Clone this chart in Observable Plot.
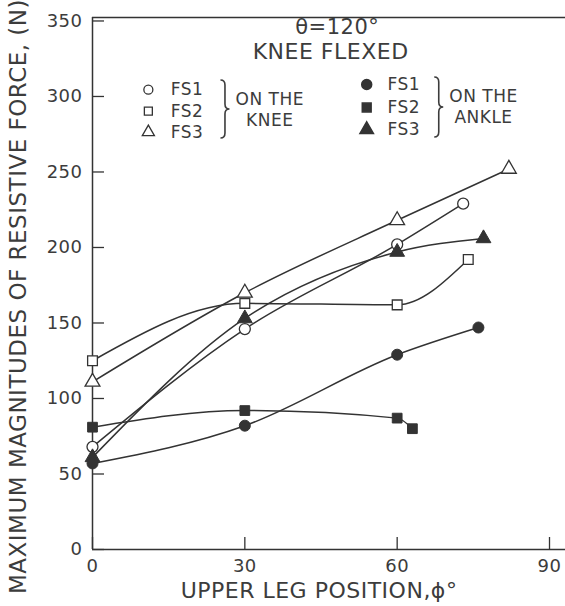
<!DOCTYPE html>
<html>
<head>
<meta charset="utf-8">
<script src="https://cdn.jsdelivr.net/npm/d3@7"></script>
<script src="https://cdn.jsdelivr.net/npm/@observablehq/plot@0.6"></script>
<style>
  html, body { margin: 0; padding: 0; background: #fff; }
  #chart svg text { letter-spacing: 0.5px; }
</style>
</head>
<body>
<div id="chart"></div>
<script>
// Upper leg position φ (degrees) and maximum resistive force (N) for each force sensor
const kneeFS1Phi = [0, 30, 60, 73];
const kneeFS1Force = [68, 146, 202, 229];
const kneeFS2Phi = [0, 30, 60, 74];
const kneeFS2Force = [125, 163, 162, 192];
const kneeFS3Phi = [0, 30, 60, 82];
const kneeFS3Force = [111, 170, 218, 252];
const ankleFS1Phi = [0, 30, 60, 76];
const ankleFS1Force = [57, 82, 129, 147];
const ankleFS2Phi = [0, 30, 60, 63];
const ankleFS2Force = [81, 92, 87, 80];
const ankleFS3Phi = [0, 30, 60, 77];
const ankleFS3Force = [61, 153, 197, 206];

const xTicks = [0, 30, 60, 90];
const yTicks = [0, 50, 100, 150, 200, 250, 300, 350];
const sensorNames = ["FS1", "FS2", "FS3"];
const symbols = ["circle", "square", "triangle"];

const ink = "#333";
const textInk = "#3c3c3c";
const font = "DejaVu Sans";

const series = [
  {place: "knee", sensor: 0, phi: kneeFS1Phi, force: kneeFS1Force},
  {place: "knee", sensor: 1, phi: kneeFS2Phi, force: kneeFS2Force},
  {place: "knee", sensor: 2, phi: kneeFS3Phi, force: kneeFS3Force},
  {place: "ankle", sensor: 0, phi: ankleFS1Phi, force: ankleFS1Force},
  {place: "ankle", sensor: 1, phi: ankleFS2Phi, force: ankleFS2Force},
  {place: "ankle", sensor: 2, phi: ankleFS3Phi, force: ankleFS3Force}
];

const rows = series.flatMap(s => s.phi.map((p, i) => ({
  key: `${s.place}-${sensorNames[s.sensor]}`,
  place: s.place,
  symbol: symbols[s.sensor],
  phi: p,
  force: s.force[i]
})));

// Legend layout (data units)
const legendRowsKnee = [304.5, 290.3, 276.4];
const legendRowsAnkle = [307.9, 292.7, 278.1];
const legendItems = [
  ...sensorNames.map((n, i) => ({place: "knee", name: n, symbol: symbols[i], sx: 11.0, tx: 15.4, y: legendRowsKnee[i]})),
  ...sensorNames.map((n, i) => ({place: "ankle", name: n, symbol: symbols[i], sx: 54.0, tx: 58.1, y: legendRowsAnkle[i]}))
];

// A right-facing curly brace drawn between two force levels at a given φ
function brace(xv, y0v, y1v, w) {
  return (index, {x, y}) => {
    const px = x(xv), top = y(y0v), bot = y(y1v), mid = (top + bot) / 2, r = 5, c = px + w / 2;
    const path = document.createElementNS("http://www.w3.org/2000/svg", "path");
    path.setAttribute("d",
      `M${px},${top} Q${c},${top} ${c},${top + r} L${c},${mid - r} Q${c},${mid} ${px + w},${mid}` +
      ` Q${c},${mid} ${c},${mid + r} L${c},${bot - r} Q${c},${bot} ${px},${bot}`);
    path.setAttribute("fill", "none");
    path.setAttribute("stroke", textInk);
    path.setAttribute("stroke-width", "1.6");
    return path;
  };
}

const xMax = 93.15, yMax = 352.3;

const chart = Plot.plot({
  width: 565,
  height: 606,
  marginLeft: 92,
  marginRight: 0,
  marginTop: 17,
  marginBottom: 57,
  style: {fontFamily: font, background: "#fff", color: textInk},
  x: {domain: [0, xMax]},
  y: {domain: [0, yMax]},
  marks: [
    // frame: left axis, bottom axis, top border
    Plot.ruleX([0], {stroke: ink, strokeWidth: 1.5}),
    Plot.ruleY([0], {stroke: ink, strokeWidth: 1.5}),
    Plot.ruleY([yMax], {stroke: ink, strokeWidth: 1.5}),
    Plot.axisY(yTicks, {anchor: "left", tickSize: -12, tickPadding: 22, fontSize: 18, stroke: ink, strokeWidth: 1.3, label: null}),
    Plot.axisX(xTicks, {anchor: "bottom", tickSize: -12, tickPadding: 22, fontSize: 18, stroke: ink, strokeWidth: 1.3, label: null}),
    Plot.text(["MAXIMUM MAGNITUDES OF RESISTIVE FORCE, (N)"], {frameAnchor: "left", textAnchor: "middle", lineAnchor: "middle", rotate: -90, dx: -74, dy: 13, fontSize: 23, fill: textInk}),
    Plot.text(["UPPER LEG POSITION,ϕ°"], {frameAnchor: "bottom", textAnchor: "middle", lineAnchor: "middle", dx: -10, dy: 41, fontSize: 22, fill: textInk}),
    // data curves
    Plot.line(rows, {x: "phi", y: "force", z: "key", curve: "monotone-x", stroke: ink, strokeWidth: 1.5}),
    Plot.dot(rows.filter(d => d.place === "knee"), {x: "phi", y: "force", symbol: "symbol", r: 5.5, fill: "#fff", stroke: ink, strokeWidth: 1.3}),
    Plot.dot(rows.filter(d => d.place === "ankle"), {x: "phi", y: "force", symbol: "symbol", r: 5.5, fill: ink, stroke: ink, strokeWidth: 1}),
    // title
    Plot.text(["θ=120°"], {x: 48.2, y: 346, fontSize: 21, fill: textInk}),
    Plot.text(["KNEE FLEXED"], {x: 46.9, y: 329.5, fontSize: 22, fill: textInk}),
    // legend
    Plot.dot(legendItems.filter(d => d.place === "knee"), {x: "sx", y: "y", symbol: "symbol", r: 4.5, fill: "#fff", stroke: ink, strokeWidth: 1.3}),
    Plot.dot(legendItems.filter(d => d.place === "ankle"), {x: "sx", y: "y", symbol: "symbol", r: 5, fill: ink, stroke: ink}),
    Plot.text(legendItems, {x: "tx", y: "y", text: "name", textAnchor: "start", fontSize: 17, fill: textInk}),
    brace(25.3, 310.6, 272.2, 9),
    brace(67.4, 312.6, 272.8, 9),
    Plot.text(["ON THE", "KNEE"], {x: 34.9, y: (d, i) => [298, 284][i], fontSize: 17, fill: textInk}),
    Plot.text(["ON THE", "ANKLE"], {x: 77.0, y: (d, i) => [300, 286][i], fontSize: 17, fill: textInk})
  ]
});

document.getElementById("chart").append(chart);
</script>
</body>
</html>
